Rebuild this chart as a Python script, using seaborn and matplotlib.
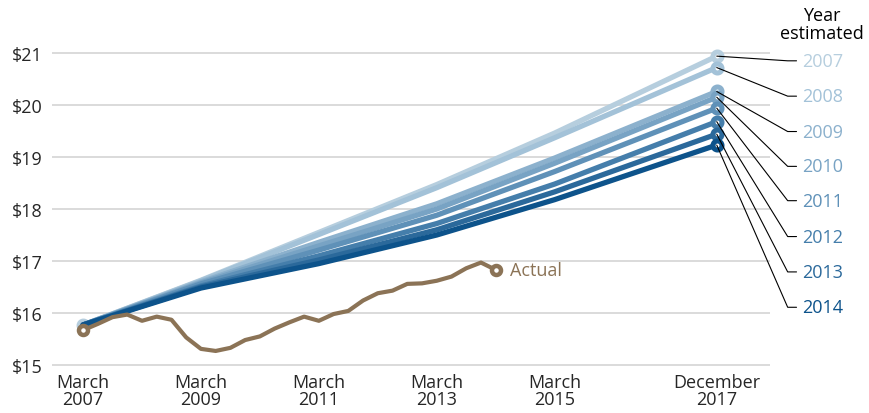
import numpy as np
import pandas as pd
import seaborn as sns
import matplotlib.pyplot as plt

# x values are decimal years (March 2007 = 2007 + 2/12)
actual_x = [2007 + 2 / 12 + 0.25 * i for i in range(29)]
actual_y = [15.67, 15.79, 15.92, 15.97, 15.85, 15.93, 15.87, 15.53, 15.31, 15.27,
            15.33, 15.48, 15.55, 15.70, 15.82, 15.93, 15.85, 15.98, 16.04, 16.24,
            16.38, 16.43, 16.56, 16.57, 16.62, 16.70, 16.86, 16.97, 16.83]

est_x = [2007 + 2 / 12, 2009 + 2 / 12, 2011 + 2 / 12, 2013 + 2 / 12, 2015 + 2 / 12, 2017 + 11 / 12]
years = ['2007', '2008', '2009', '2010', '2011', '2012', '2013', '2014']
est_2007 = [15.77, 16.63, 17.55, 18.47, 19.46, 20.94]
est_2008 = [15.77, 16.62, 17.51, 18.41, 19.37, 20.72]
est_2009 = [15.77, 16.60, 17.36, 18.10, 18.98, 20.26]
est_2010 = [15.77, 16.58, 17.29, 18.00, 18.88, 20.15]
est_2011 = [15.77, 16.56, 17.21, 17.88, 18.72, 19.94]
est_2012 = [15.77, 16.52, 17.10, 17.72, 18.48, 19.68]
est_2013 = [15.77, 16.50, 17.02, 17.60, 18.33, 19.44]
est_2014 = [15.77, 16.48, 16.95, 17.50, 18.18, 19.23]
estimates = [est_2007, est_2008, est_2009, est_2010, est_2011, est_2012, est_2013, est_2014]
label_y = [20.85, 20.17, 19.49, 18.82, 18.16, 17.47, 16.79, 16.11]

colors = ['#b6cede', '#a3c2d8', '#8cb1cd', '#78a3c4', '#5f91b8', '#457eab', '#2b699b', '#0d538b']
brown = '#8b7356'

tick_x = [2007 + 2 / 12, 2009 + 2 / 12, 2011 + 2 / 12, 2013 + 2 / 12, 2015 + 2 / 12, 2017 + 11 / 12]
tick_labels = ['March\n2007', 'March\n2009', 'March\n2011', 'March\n2013', 'March\n2015', 'December\n2017']
y_ticks = [15, 16, 17, 18, 19, 20, 21]

df = pd.DataFrame({
    'x': np.tile(est_x, len(years)),
    'wage': np.concatenate(estimates),
    'year': np.repeat(years, len(est_x)),
})

sns.set_style('white')
plt.rcParams['font.family'] = ['Open Sans', 'DejaVu Sans']

fig = plt.figure(figsize=(8.7, 4.14), dpi=100)
ax = fig.add_axes([52 / 870, 0.1034, (770 - 52) / 870, 0.8821 - 0.1034])

ax.set_xlim(2006.64, 2018.82)
ax.set_ylim(14.9, 21.1)

# start marker under everything
ax.plot(est_x[0], est_2007[0], 'o', ms=6.5, mew=3.5, mec=colors[0], mfc='white', zorder=2)

sns.lineplot(data=df, x='x', y='wage', hue='year', palette=colors, linewidth=3.8,
             sort=False, legend=False, ax=ax, zorder=3)

for i, yr in enumerate(years):
    ax.plot(est_x[-1], estimates[i][-1], 'o', ms=6.5, mew=3.6, mec=colors[i], mfc='white',
            zorder=4 + i * 0.01, clip_on=False)
    # leader line to label
    ax.plot([est_x[-1], 2019.12, 2019.27], [estimates[i][-1], label_y[i], label_y[i]],
            color='black', lw=0.8, zorder=5, clip_on=False)
    ax.text(2019.37, label_y[i], yr, color=colors[i], fontsize=13, va='center', ha='left')

sns.lineplot(x=actual_x, y=actual_y, color=brown, linewidth=3.0, ax=ax, zorder=6)
ax.plot(actual_x[0], actual_y[0], 'o', ms=6.5, mew=3.2, mec=brown, mfc='white', zorder=7)
ax.plot(actual_x[-1], actual_y[-1], 'o', ms=6.5, mew=3.2, mec=brown, mfc='white', zorder=7)
ax.text(actual_x[-1] + 0.25, actual_y[-1], 'Actual', color=brown, fontsize=13, va='center', ha='left')

ax.text(2019.7, 21.56, 'Year\nestimated', color='black', fontsize=13, ha='center', va='center',
        linespacing=1.05)

ax.set_yticks(y_ticks)
ax.set_yticklabels(['$%d' % v for v in y_ticks], fontsize=13)
ax.set_xticks(tick_x)
ax.set_xticklabels(tick_labels, fontsize=13, linespacing=0.95)
ax.tick_params(axis='y', length=0, pad=7)
ax.tick_params(axis='x', length=0, pad=2)
ax.grid(axis='y', color='#d4d4d4', lw=1.2)
ax.grid(axis='x', visible=False)
ax.set_xlabel('')
ax.set_ylabel('')
sns.despine(ax=ax, left=True, bottom=True)

fig.savefig('out.png', dpi=100)
